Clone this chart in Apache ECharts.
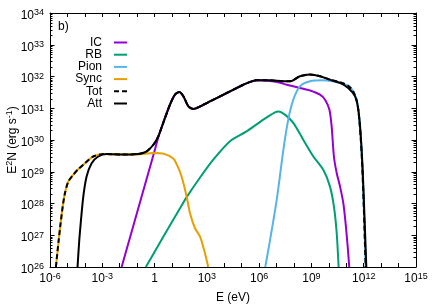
<!DOCTYPE html>
<html>
<head>
<meta charset="utf-8">
<script src="https://cdn.jsdelivr.net/npm/echarts@6/dist/echarts.min.js"></script>
<style>html,body{margin:0;padding:0;background:#fff}#c{width:436px;height:305px}</style>
</head>
<body>
<div id="c"></div>
<script>
// Values, as exponents: log10(E / eV) and log10(E^2 N / erg s^-1)
const icLogE = [-1.89, -0.03, 0.21, 0.50, 0.88, 1.17, 1.42, 1.65, 1.94, 2.22, 2.80, 3.56, 4.33, 5.09, 5.86, 6.62, 7.10, 7.58, 8.34, 8.92, 9.49, 9.78, 10.03, 10.16, 10.29, 10.45, 10.64, 10.83, 10.98, 11.11, 11.17];
const icLogY = [26.0, 29.60, 30.08, 30.56, 31.11, 31.43, 31.51, 31.38, 31.06, 30.98, 31.11, 31.32, 31.53, 31.74, 31.88, 31.86, 31.82, 31.74, 31.64, 31.56, 31.43, 31.27, 30.96, 30.43, 29.48, 28.96, 28.54, 28.01, 27.27, 26.44, 26.0];

const rbLogE = [-0.50, 0.50, 1.46, 1.84, 2.61, 3.37, 4.33, 5.28, 6.24, 6.91, 7.10, 7.48, 7.96, 8.53, 9.11, 9.68, 10.06, 10.29, 10.45, 10.56];
const rbLogY = [26.0, 26.95, 27.85, 28.20, 28.82, 29.38, 29.96, 30.27, 30.64, 30.87, 30.90, 30.80, 30.54, 30.01, 29.48, 29.06, 28.54, 27.91, 27.07, 26.0];

const pionLogE = [6.35, 6.62, 7.01, 7.39, 7.67, 7.96, 8.34, 8.92, 9.68, 10.45, 11.11, 11.40, 11.63, 11.78, 11.90, 12.01, 12.11];
const pionLogY = [26.0, 26.83, 28.12, 29.69, 30.64, 31.27, 31.69, 31.85, 31.88, 31.82, 31.71, 31.53, 31.17, 30.43, 29.38, 27.80, 26.0];

const syncLogE = [-5.66, -5.62, -5.50, -5.39, -5.27, -5.14, -4.95, -4.66, -4.38, -3.99, -3.52, -2.94, -2.17, -1.03, -0.07, 0.50, 1.07, 1.30, 1.55, 1.84, 2.03, 2.32, 2.61, 2.84, 3.08];
const syncLogY = [26.0, 26.22, 26.85, 27.38, 27.91, 28.33, 28.69, 28.91, 29.08, 29.27, 29.48, 29.56, 29.54, 29.54, 29.59, 29.57, 29.42, 29.20, 28.85, 28.22, 27.70, 27.22, 26.96, 26.54, 26.0];

const totLogE = [-5.66, -5.62, -5.50, -5.39, -5.27, -5.14, -4.95, -4.66, -4.38, -3.99, -3.52, -2.94, -1.79, -0.84, -0.45, -0.07, 0.21, 0.50, 0.88, 1.17, 1.42, 1.65, 1.94, 2.22, 2.80, 3.56, 4.33, 5.09, 5.86, 6.62, 7.39, 7.86, 8.34, 8.92, 9.49, 10.06, 10.64, 11.11, 11.40, 11.63, 11.78, 11.90, 12.01, 12.11];
const totLogY = [26.0, 26.22, 26.85, 27.38, 27.91, 28.33, 28.69, 28.91, 29.08, 29.27, 29.48, 29.56, 29.54, 29.57, 29.64, 29.85, 30.11, 30.54, 31.11, 31.43, 31.51, 31.38, 31.06, 30.98, 31.11, 31.32, 31.53, 31.74, 31.88, 31.88, 31.85, 31.86, 32.01, 32.06, 32.01, 31.90, 31.82, 31.71, 31.53, 31.17, 30.43, 29.38, 27.80, 26.0];

const attLogE = [-4.42, -4.32, -4.22, -4.09, -3.90, -3.61, -3.23, -2.75, -1.79, -0.84, -0.45, -0.07, 0.21, 0.50, 0.88, 1.17, 1.42, 1.65, 1.94, 2.22, 2.80, 3.56, 4.33, 5.09, 5.86, 6.62, 7.39, 7.86, 8.34, 8.92, 9.49, 10.06, 10.64, 11.11, 11.50, 11.69, 11.82, 11.94, 12.03, 12.15];
const attLogY = [26.0, 26.85, 27.49, 28.22, 28.85, 29.27, 29.48, 29.56, 29.54, 29.57, 29.64, 29.85, 30.11, 30.54, 31.11, 31.43, 31.51, 31.38, 31.06, 30.98, 31.11, 31.32, 31.53, 31.74, 31.88, 31.88, 31.85, 31.86, 32.01, 32.06, 32.01, 31.90, 31.80, 31.64, 31.38, 30.96, 30.22, 29.06, 27.80, 26.0];

const seriesNames = ['IC', 'RB', 'Pion', 'Sync', 'Tot', 'Att'];
const xMin = 1e-6, xMax = 1e15;
const yMin = 1e26, yMax = 1e34;
const xLabelStep = 3; // labelled decades on the E axis

const FONT = '"Liberation Sans", Arial, Helvetica, sans-serif';
const rich = {
  b: { fontSize: 12, lineHeight: 12, padding: [5, 0, 0, 0], fontFamily: FONT, color: '#000' },
  s: { fontSize: 9, lineHeight: 9, padding: [1.5, 0, 0, 0], verticalAlign: 'top', fontFamily: FONT, color: '#000' }
};
function powLabel(v, onlyEvery) {
  const e = Math.round(Math.log10(v));
  if (onlyEvery && e % onlyEvery !== 0) return '';
  if (e === 0) return '{b|1}';
  return '{b|10}{s|' + e + '}';
}
function pairs(le, ly) { return le.map((e, i) => [Math.pow(10, e), Math.pow(10, ly[i])]); }

// minor tick positions for the log y axis (2..9 x 10^n)
const yMinor = [];
for (let n = 26; n < 34; n++) for (let k = 2; k <= 9; k++) yMinor.push([xMin, k * Math.pow(10, n)]);

function lineSeries(name, le, ly, color, type, width) {
  return {
    name: name, type: 'line', data: pairs(le, ly), symbol: 'none', showSymbol: false,
    smooth: 0.25, clip: true,
    lineStyle: { color: color, width: width || 2, type: type || 'solid' },
    itemStyle: { color: color }, emphasis: { disabled: true }
  };
}

const axisCommonX = {
  type: 'log', logBase: 10, min: xMin, max: xMax, interval: 1,
  axisLine: { show: true, onZero: false, lineStyle: { color: '#000', width: 1 } },
  axisTick: { show: true, inside: true, length: 4, lineStyle: { color: '#000', width: 1 } },
  splitLine: { show: false }, minorTick: { show: false }
};
const axisCommonY = {
  type: 'log', logBase: 10, min: yMin, max: yMax, interval: 1,
  axisLine: { show: true, onZero: false, lineStyle: { color: '#000', width: 1 } },
  axisTick: { show: true, inside: true, length: 4.5, lineStyle: { color: '#000', width: 1 } },
  splitLine: { show: false }, minorTick: { show: false }
};

const chart = echarts.init(document.getElementById('c'), null, { renderer: 'canvas' });
chart.setOption({
  animation: false,
  backgroundColor: '#fff',
  textStyle: { fontFamily: FONT, color: '#000' },
  grid: { left: 50, right: 20, top: 13, bottom: 38, containLabel: false, outerBoundsMode: 'none' },
  xAxis: [
    Object.assign({}, axisCommonX, {
      position: 'bottom',
      name: 'E (eV)', nameLocation: 'middle', nameGap: 25, nameMoveOverlap: false,
      nameTextStyle: { fontSize: 12, color: '#000', fontFamily: FONT },
      axisLabel: { show: true, margin: 3.5, formatter: v => powLabel(v, xLabelStep), rich: rich, showMinLabel: true, showMaxLabel: true }
    }),
    Object.assign({}, axisCommonX, { position: 'top', axisLabel: { show: false } })
  ],
  yAxis: [
    Object.assign({}, axisCommonY, {
      position: 'left',
      name: '{b|E}{s|2}{b|N (erg s}{s|-1}{b|)}', nameLocation: 'middle', nameGap: 33, nameMoveOverlap: false,
      nameTextStyle: { fontSize: 12, color: '#000', fontFamily: FONT, rich: {
        b: { fontSize: 12, lineHeight: 12, padding: [4, 0, 0, 0], fontFamily: FONT, color: '#000' },
        s: { fontSize: 9, lineHeight: 9, padding: [0.5, 0, 0, 0], verticalAlign: 'top', fontFamily: FONT, color: '#000' }
      } },
      axisLabel: { show: true, margin: 6, formatter: v => powLabel(v, 0), rich: rich, showMinLabel: true, showMaxLabel: true }
    }),
    Object.assign({}, axisCommonY, { position: 'right', axisLabel: { show: false } })
  ],
  legend: {
    data: seriesNames, orient: 'vertical', align: 'right', right: 308, top: 36.5,
    padding: 0, itemGap: 0.2, itemWidth: 13, itemHeight: 12, selectedMode: false,
    itemStyle: { opacity: 0 },
    textStyle: { fontSize: 12, color: '#000', fontFamily: FONT, lineHeight: 12, padding: [0, 7, 0, 0] }
  },
  graphic: [
    { type: 'text', left: 58, top: 20.5, style: { text: 'b)', fontSize: 12, fill: '#000', font: '12px ' + FONT } }
  ],
  series: [
    lineSeries('IC', icLogE, icLogY, '#9400d3'),
    lineSeries('RB', rbLogE, rbLogY, '#009e73'),
    lineSeries('Pion', pionLogE, pionLogY, '#56b4e9'),
    lineSeries('Sync', syncLogE, syncLogY, '#e69f00'),
    lineSeries('Tot', totLogE, totLogY, '#000000', [5, 3], 2),
    lineSeries('Att', attLogE, attLogY, '#000000', 'solid', 2),
    {
      type: 'custom', silent: true, clip: false, z: 5, data: yMinor,
      renderItem: function (params, api) {
        const p = api.coord([api.value(0), api.value(1)]);
        const cs = params.coordSys;
        const y = Math.round(p[1]) + 0.5;
        return { type: 'group', children: [
          { type: 'line', shape: { x1: cs.x, y1: y, x2: cs.x + 2.5, y2: y }, style: { stroke: '#000', lineWidth: 1 } },
          { type: 'line', shape: { x1: cs.x + cs.width - 2.5, y1: y, x2: cs.x + cs.width, y2: y }, style: { stroke: '#000', lineWidth: 1 } }
        ] };
      }
    }
  ]
});
</script>
</body>
</html>
